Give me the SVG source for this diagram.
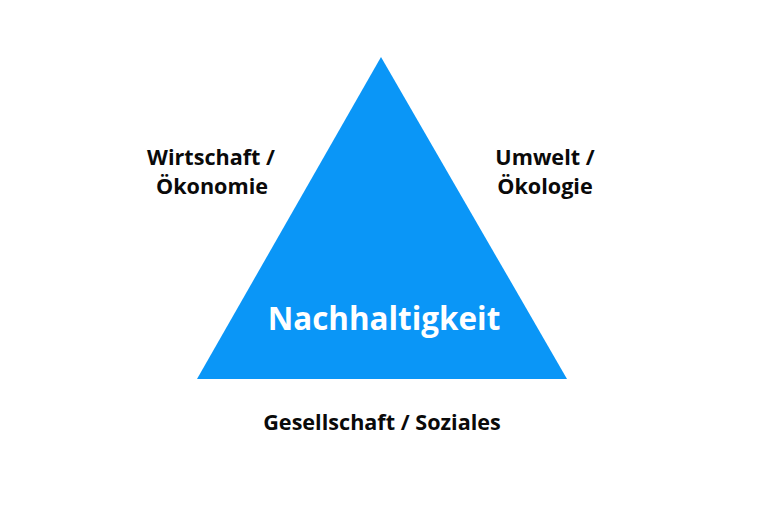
<svg xmlns="http://www.w3.org/2000/svg" width="768" height="512" viewBox="0 0 768 512">
<style>
.lbl{font-family:"Open Sans","Liberation Sans",sans-serif;font-weight:700;font-size:21.6px;fill:#0a0a0a;text-anchor:middle}
.title{font-family:"Open Sans","Liberation Sans",sans-serif;font-weight:700;font-size:31.4px;fill:#fff;text-anchor:middle}
</style>
<rect width="768" height="512" fill="#fff"/>
<g id="triangle">
<polygon points="381,57 197,379 567,379" fill="#0A96F7"/>
<text class="title" x="384" y="330">Nachhaltigkeit</text>
</g>
<g id="wirtschaft">
<text class="lbl" x="211" y="165">Wirtschaft /</text>
<text class="lbl" x="212" y="194">Ökonomie</text>
</g>
<g id="umwelt">
<text class="lbl" x="545" y="165">Umwelt /</text>
<text class="lbl" x="545" y="194">Ökologie</text>
</g>
<g id="gesellschaft">
<text class="lbl" x="382" y="430">Gesellschaft / Soziales</text>
</g>
<g id="connectors"/>
</svg>
